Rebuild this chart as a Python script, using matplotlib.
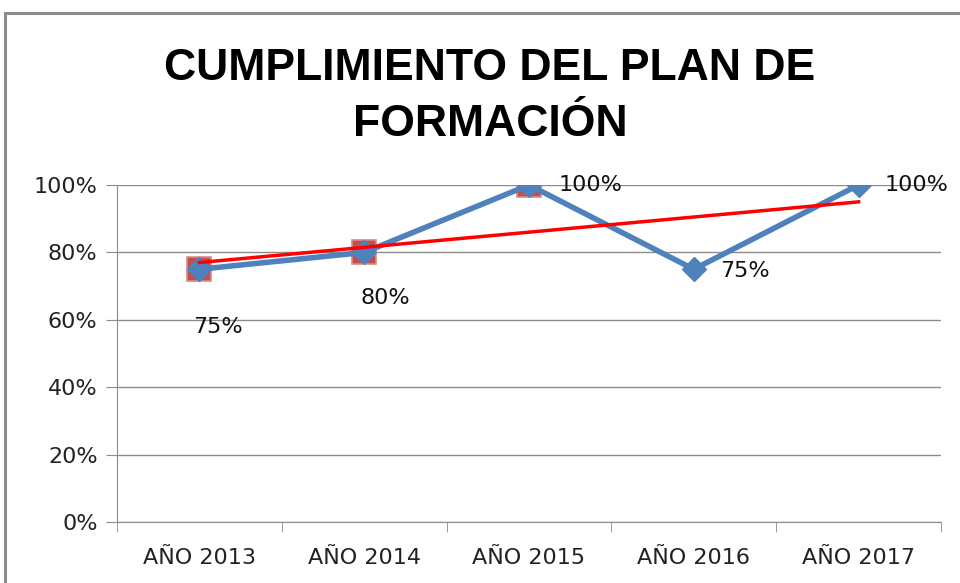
import matplotlib
matplotlib.use("Agg")
import matplotlib.pyplot as plt
import numpy as np
from matplotlib.patches import Rectangle

categories = ["AÑO 2013", "AÑO 2014", "AÑO 2015", "AÑO 2016", "AÑO 2017"]
cumplimiento = [0.75, 0.80, 1.00, 0.75, 1.00]
marcados = [0.75, 0.80, 1.00]
labels = ["75%", "80%", "100%", "75%", "100%"]
yticks = [0, 0.2, 0.4, 0.6, 0.8, 1.0]
yticklabels = ["0%", "20%", "40%", "60%", "80%", "100%"]

fig = plt.figure(figsize=(9.6, 5.83), dpi=100)
fig.patches.append(Rectangle((5/960, -0.1), 1.2, 1 - 13/583 + 0.1, transform=fig.transFigure,
                             fill=False, edgecolor="#8c8c8c", linewidth=2.2))
ax = fig.add_axes([117/960, 1 - 522/583, (941 - 117)/960, (522 - 185)/583])

x = np.arange(len(categories))
ax.set_ylim(0, 1)
ax.set_xlim(-0.5, len(categories) - 0.5)
ax.set_yticks(yticks)
ax.set_yticklabels(yticklabels, fontsize=16, color="#222222")
ax.grid(axis="y", color="#8c8c8c", linewidth=1)
ax.set_axisbelow(True)
ax.set_xticks(x)
ax.set_xticklabels(categories, fontsize=16, color="#222222")
ax.set_xticks(np.arange(-0.5, len(categories)), minor=True)
ax.tick_params(axis="x", which="major", length=0, pad=19)
ax.tick_params(axis="x", which="minor", length=7, color="#8c8c8c")
ax.tick_params(axis="y", length=8, color="#8c8c8c", pad=6)
for s in ["top", "right"]:
    ax.spines[s].set_visible(False)
for s in ["left", "bottom"]:
    ax.spines[s].set_color("#8c8c8c")

xm = np.arange(len(marcados))
ax.plot(xm, marcados, linestyle="none", marker="s", markersize=17,
        markerfacecolor="#C0504D", markeredgecolor="#D98A88", markeredgewidth=1.2, zorder=3)
ax.plot(x, cumplimiento, color="#4F81BD", linewidth=4, marker="D", markersize=12,
        markerfacecolor="#4F81BD", markeredgecolor="#4F81BD", zorder=4)
coef = np.polyfit(x, cumplimiento, 1)
ax.plot(x[[0, -1]], np.polyval(coef, x[[0, -1]]), color="#FF0000", linewidth=2.5, zorder=5)

offsets = [(0.11, -0.17, "center"), (0.13, -0.135, "center"), (0.18, 0, "left"), (0.16, -0.005, "left"), (0.16, 0, "left")]
for xi, v, lab, (dx, dy, ha) in zip(x, cumplimiento, labels, offsets):
    ax.text(xi + dx, v + dy, lab, fontsize=16, ha=ha, va="center", color="#111111", zorder=6)

fig.text(490/960, 1 - 68/583, "CUMPLIMIENTO DEL PLAN DE", fontsize=32, fontweight="bold",
         ha="center", va="center", family="Liberation Sans")
fig.text(490/960, 1 - 125/583, "FORMACIÓN", fontsize=32, fontweight="bold",
         ha="center", va="center", family="Liberation Sans")

fig.savefig("out.png", dpi=100)
